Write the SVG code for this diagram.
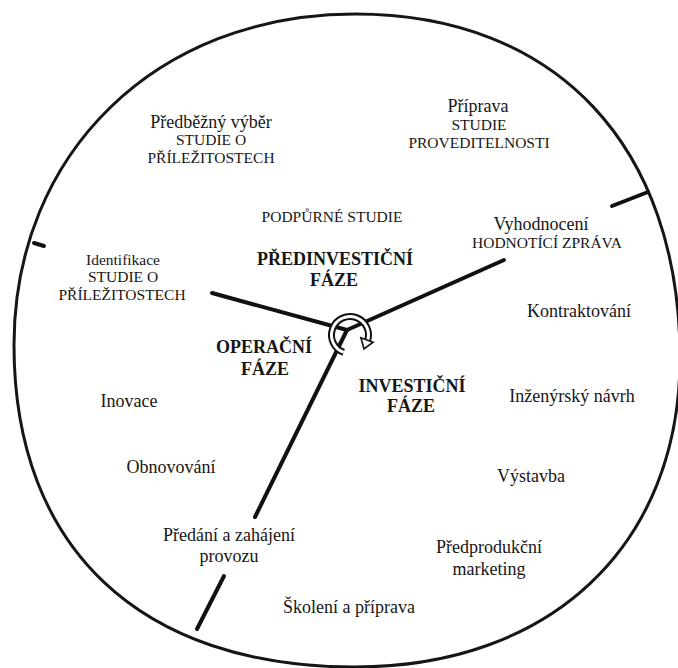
<svg xmlns="http://www.w3.org/2000/svg" width="678" height="668" viewBox="0 0 678 668">
<style>
text{font-family:"Liberation Serif","Times New Roman",serif;fill:#161616;text-anchor:middle}
.lc{font-size:18px}
.uc{font-size:15.5px}
.b{font-size:18px;font-weight:bold}
.ln{stroke:#111;stroke-width:4;stroke-linecap:round;fill:none}
.rim{stroke:#161616;stroke-width:3;fill:none}
</style>
<rect width="678" height="668" fill="#fff"/>
<g id="outline">
<path class="rim" d="M355,14 C557,14 680,147 680,358 C680,545 551,667 355,667 C140,667 14,548 14,345 C14,153 157,14 355,14 Z"/>
</g>
<g id="connectors">
<line class="ln" x1="347" y1="330" x2="212" y2="293"/>
<line class="ln" x1="34" y1="243" x2="44" y2="246" stroke-width="3"/>
<line class="ln" x1="347" y1="330" x2="504" y2="260"/>
<line class="ln" x1="612" y1="206" x2="648" y2="192"/>
<line class="ln" x1="347" y1="330" x2="255" y2="517"/>
<line class="ln" x1="224" y1="576" x2="197" y2="629"/>
</g>
<g id="cycle-arrow">
<path d="M343.7,352.4 A18.5,18.5 0 1 1 367.4,341.3" fill="none" stroke="#111" stroke-width="7"/>
<path d="M343.7,352.4 A18.5,18.5 0 1 1 367.4,341.3" fill="none" stroke="#fff" stroke-width="3"/>
<polygon points="360.9,337.8 373.1,342.2 364,349" fill="#fff" stroke="#111" stroke-width="1.6"/>
</g>
<g font-family="Liberation Serif, Times New Roman, serif">
<g id="predbezny-vyber">
<text class="lc" x="211" y="128">Předběžný výběr</text>
<text class="uc" x="211" y="145">STUDIE O</text>
<text class="uc" x="211" y="163">PŘÍLEŽITOSTECH</text>
</g>
<g id="priprava">
<text class="lc" x="478" y="112">Příprava</text>
<text class="uc" x="479" y="130">STUDIE</text>
<text class="uc" x="479" y="148">PROVEDITELNOSTI</text>
</g>
<g id="podpurne-studie">
<text class="uc" x="332" y="222">PODPŮRNÉ STUDIE</text>
</g>
<g id="vyhodnoceni">
<text class="lc" x="541" y="230">Vyhodnocení</text>
<text class="uc" x="547" y="248">HODNOTÍCÍ ZPRÁVA</text>
</g>
<g id="identifikace">
<text class="uc" x="123" y="265">Identifikace</text>
<text class="uc" x="123" y="282">STUDIE O</text>
<text class="uc" x="122" y="300">PŘÍLEŽITOSTECH</text>
</g>
<g id="predinvesticni-faze">
<text class="b" x="335" y="265">PŘEDINVESTIČNÍ</text>
<text class="b" x="334" y="286">FÁZE</text>
</g>
<g id="kontraktovani">
<text class="lc" x="579" y="317">Kontraktování</text>
</g>
<g id="operacni-faze">
<text class="b" x="264" y="353">OPERAČNÍ</text>
<text class="b" x="265" y="375">FÁZE</text>
</g>
<g id="investicni-faze">
<text class="b" x="412" y="392">INVESTIČNÍ</text>
<text class="b" x="411" y="412">FÁZE</text>
</g>
<g id="inovace">
<text class="lc" x="129" y="407">Inovace</text>
</g>
<g id="inzenyrsky-navrh">
<text class="lc" x="572" y="402">Inženýrský návrh</text>
</g>
<g id="obnovovani">
<text class="lc" x="171" y="473">Obnovování</text>
</g>
<g id="vystavba">
<text class="lc" x="531" y="482">Výstavba</text>
</g>
<g id="predani">
<text class="lc" x="229" y="541">Předání a zahájení</text>
<text class="lc" x="229" y="562">provozu</text>
</g>
<g id="predprodukcni-marketing">
<text class="lc" x="489" y="553">Předprodukční</text>
<text class="lc" x="489" y="575">marketing</text>
</g>
<g id="skoleni">
<text class="lc" x="349" y="613">Školení a příprava</text>
</g>
</g>
</svg>
